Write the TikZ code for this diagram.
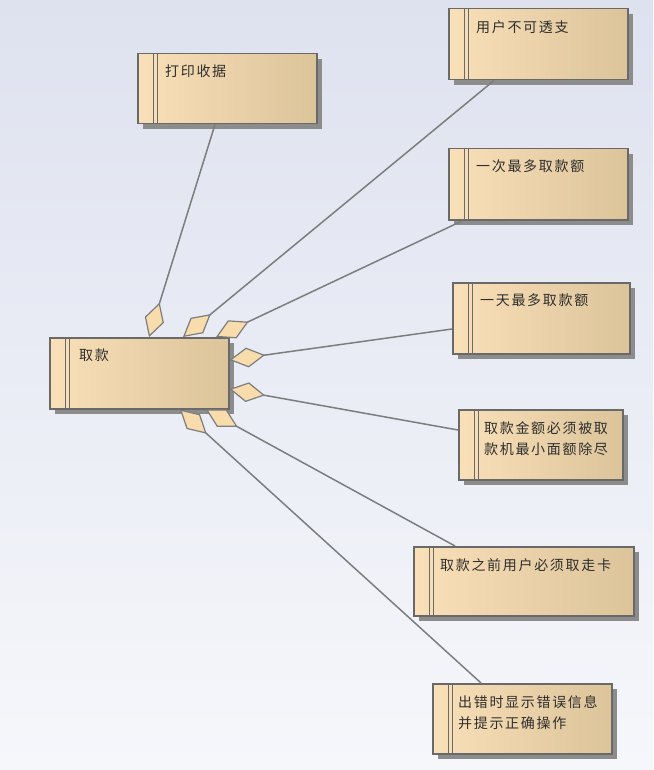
\documentclass[tikz,border=0pt]{standalone}
\usepackage{fontspec}
\newfontfamily\cjk[LetterSpace=12]{Noto Sans CJK SC}
\usetikzlibrary{arrows.meta,shadows}

\definecolor{bgtop}{RGB}{222,226,239}
\definecolor{bgbottom}{RGB}{246,247,251}
\definecolor{boxlight}{RGB}{250,224,184}
\definecolor{boxdark}{RGB}{219,195,154}
\definecolor{boxline}{RGB}{105,105,105}
\definecolor{shadowgray}{RGB}{140,140,140}
\definecolor{linegray}{RGB}{125,125,125}
\definecolor{diamondfill}{RGB}{248,220,172}

\begin{document}
\begin{tikzpicture}[x=1pt,y=-1pt,
    req/.style={rectangle,anchor=north west,inner sep=0pt,
      draw=boxline,line width=1.5pt,
      left color=boxlight,middle color=boxlight!96!boxdark,right color=boxdark,
      drop shadow={shadow xshift=5pt,shadow yshift=-5pt,fill=shadowgray,opacity=1},
      path picture={
        \draw[boxline,line width=1.2pt]
          ([xshift=16pt]path picture bounding box.north west) -- ([xshift=16pt]path picture bounding box.south west)
          ([xshift=20pt]path picture bounding box.north west) -- ([xshift=20pt]path picture bounding box.south west);
      }},
    reqtext/.style={anchor=north west,inner sep=0pt,align=left,xshift=28pt,yshift=-12pt,
      font=\cjk\fontsize{14}{21}\selectfont,text=black!82},
    aggr/.style={color=linegray,line width=1.5pt,
      {Diamond[length=36pt,width=20pt,fill=diamondfill,line width=1.2pt]}-}]
    \fill[top color=bgtop,bottom color=bgbottom] (0,0) rectangle (653,770);
    \useasboundingbox (0,0) rectangle (653,770);

    \node[req,minimum width=179pt,minimum height=71pt] (main)        at (49,337)
      [label={[reqtext,xshift=2pt]north west:取款}] {};
    \node[req,minimum width=179pt,minimum height=70pt] (print)       at (137,53)
      [label={[reqtext]north west:打印收据}] {};
    \node[req,minimum width=179pt,minimum height=71pt] (nooverdraft) at (448,8)
      [label={[reqtext]north west:用户不可透支}] {};
    \node[req,minimum width=179pt,minimum height=71pt] (oncemax)     at (448,148)
      [label={[reqtext]north west:一次最多取款额}] {};
    \node[req,minimum width=177pt,minimum height=71pt] (daymax)      at (452,282)
      [label={[reqtext]north west:一天最多取款额}] {};
    \node[req,minimum width=164pt,minimum height=70pt] (divisible)   at (458,409)
      [label={[reqtext,xshift=-2pt]north west:取款金额必须被取\\款机最小面额除尽}] {};
    \node[req,minimum width=220pt,minimum height=69pt] (takecard)    at (413,546)
      [label={[reqtext,xshift=-1pt]north west:取款之前用户必须取走卡}] {};
    \node[req,minimum width=179pt,minimum height=70pt] (errmsg)      at (432,683)
      [label={[reqtext,xshift=-2pt]north west:出错时显示错误信息\\并提示正确操作}] {};

    \path[aggr]
    % top edges
    ([xshift=100pt]main.north west) edge ([xshift=78pt]print.south west)
    ([xshift=134pt]main.north west) edge ([xshift=46pt]nooverdraft.south west)
    ([xshift=167pt]main.north west) edge ([xshift=15pt]oncemax.south west)
    % right edges
    ([yshift=-23pt]main.north east) edge ([yshift=-47pt]daymax.north west)
    ([yshift=-52pt]main.north east) edge ([yshift=-21pt]divisible.north west)
    % bottom edges
    ([xshift=157pt]main.south west) edge ([xshift=42pt]takecard.north west)
    ([xshift=131pt]main.south west) edge ([xshift=49pt]errmsg.north west);
  \end{tikzpicture}
\end{document}
